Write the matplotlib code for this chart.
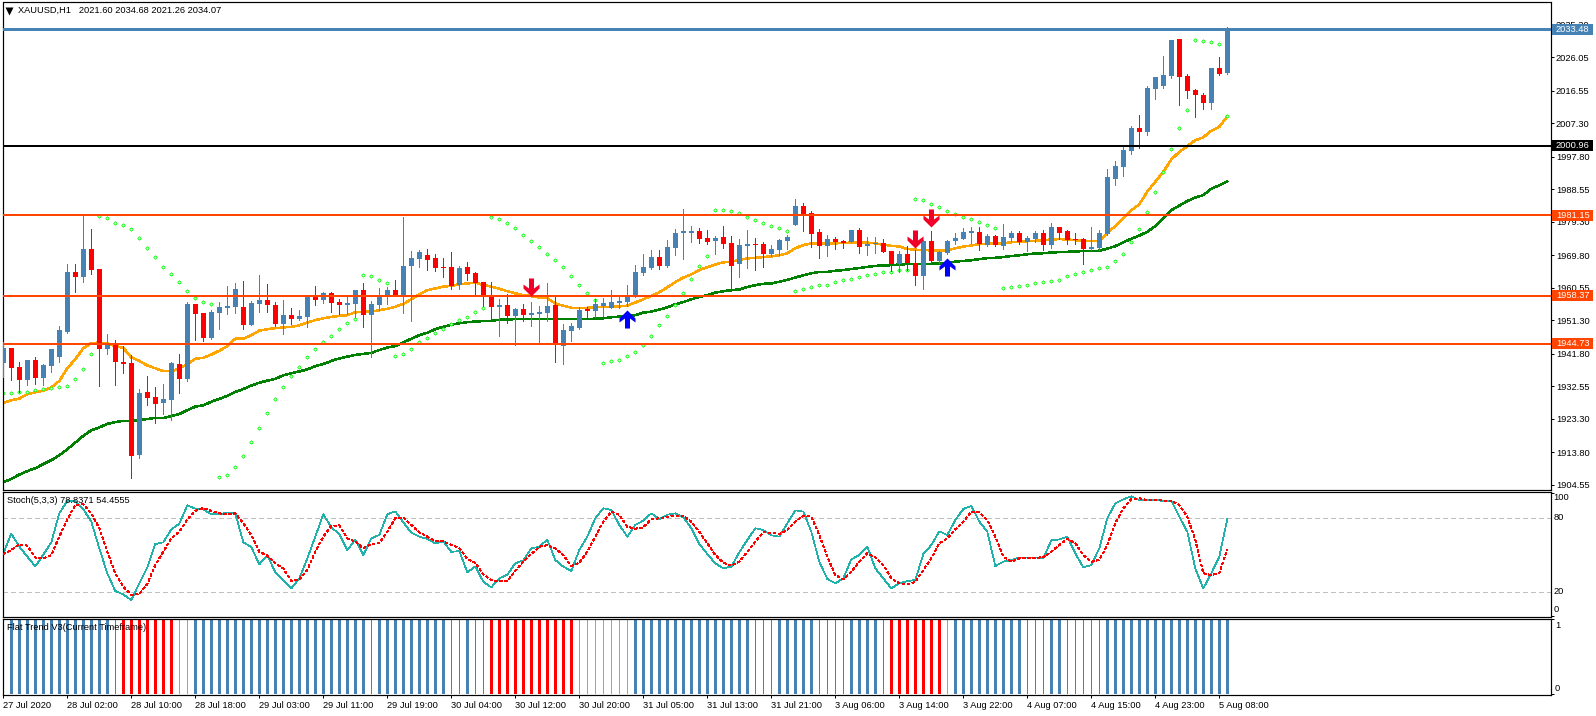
import numpy as np
import matplotlib
matplotlib.use("Agg")
import matplotlib.pyplot as plt
from matplotlib.path import Path
from matplotlib.patches import Rectangle
from matplotlib.transforms import blended_transform_factory

plt.rcParams['font.family'] = ['Liberation Sans', 'DejaVu Sans']

opens = [1939.3,1943.4,1938.0,1934.4,1940.0,1935.0,1938.3,1940.9,1947.9,1965.0,
1963.6,1971.6,1965.9,1943.1,1944.3,1939.5,1939.2,1913.0,1930.9,1929.5,
1927.8,1928.7,1938.9,1934.6,1955.9,1953.4,1946.3,1953.4,1954.8,1955.1,
1955.1,1950.0,1955.9,1957.1,1955.7,1950.3,1952.8,1951.7,1952.3,1957.9,
1957.1,1959.1,1956.5,1955.7,1955.9,1959.9,1952.8,1955.7,1958.2,1959.9,
1958.5,1966.8,1968.7,1969.9,1969.0,1966.5,1966.5,1961.4,1966.5,1964.8,
1962.2,1958.5,1955.1,1955.7,1952.5,1954.5,1952.8,1953.1,1953.4,1955.7,
1944.0,1948.3,1949.1,1954.5,1954.0,1955.4,1954.8,1956.2,1956.5,1957.9,
1964.8,1966.2,1969.3,1966.8,1971.9,1976.1,1976.1,1976.7,1974.7,1973.9,
1975.0,1973.3,1967.3,1972.4,1973.0,1973.0,1970.2,1971.3,1973.9,1978.4,
1983.8,1981.8,1976.4,1972.4,1974.4,1973.9,1973.6,1977.0,1972.4,1973.0,
1973.3,1971.0,1967.3,1970.2,1967.6,1963.9,1973.9,1968.2,1970.4,1973.9,
1974.4,1976.1,1976.4,1972.7,1975.3,1972.4,1974.7,1976.1,1973.6,1974.4,
1976.1,1972.7,1977.8,1976.7,1974.4,1974.4,1971.6,1971.9,1975.8,1991.5,
1994.9,1999.4,2006.0,2004.8,2017.0,2017.9,2020.7,2031.2,2020.7,2016.7,
2015.3,2013.0,2023.0,2021.60]
highs = [1945.2,1943.6,1939.5,1940.2,1940.9,1938.9,1943.1,1949.7,1967.3,1967.3,
1980.9,1977.3,1965.9,1947.4,1945.7,1944.0,1941.5,1931.8,1935.5,1932.4,
1933.2,1939.5,1941.7,1956.5,1955.9,1953.4,1954.2,1956.5,1961.1,1961.9,
1962.5,1956.8,1964.2,1961.6,1956.5,1957.1,1954.8,1954.2,1958.2,1961.1,
1959.4,1959.4,1957.4,1958.2,1959.9,1961.9,1956.8,1960.5,1960.8,1962.8,
1980.7,1971.0,1971.3,1971.6,1970.2,1969.0,1970.7,1966.8,1967.9,1965.0,
1962.2,1962.2,1957.4,1958.8,1954.8,1955.9,1956.5,1955.4,1961.9,1958.5,
1950.3,1950.6,1955.1,1955.1,1957.4,1957.7,1959.9,1958.2,1961.4,1967.0,
1970.2,1971.3,1971.3,1974.1,1977.3,1982.9,1978.1,1977.5,1977.0,1975.3,
1978.1,1975.3,1974.4,1977.0,1974.7,1973.6,1972.7,1974.4,1975.6,1985.8,
1984.6,1982.4,1977.3,1975.6,1975.0,1974.1,1977.0,1977.5,1975.0,1975.0,
1974.4,1971.0,1971.0,1972.4,1971.3,1974.1,1976.7,1971.0,1974.1,1976.1,
1977.5,1977.8,1977.8,1975.8,1975.6,1978.7,1976.7,1976.7,1975.3,1976.7,
1977.0,1979.0,1977.8,1977.0,1976.1,1974.7,1977.8,1977.0,1994.3,1996.6,
2000.6,2006.5,2009.6,2017.9,2020.4,2026.4,2030.9,2031.2,2021.3,2017.0,
2015.9,2023.0,2026.1,2034.68]
lows = [1935.3,1934.4,1931.0,1933.0,1933.2,1933.0,1936.6,1939.5,1947.7,1959.4,
1962.2,1964.5,1932.6,1941.7,1932.9,1936.3,1906.5,1912.2,1927.3,1922.1,
1924.7,1923.0,1930.7,1934.1,1945.7,1945.4,1946.0,1948.8,1953.1,1953.4,
1948.8,1950.0,1953.7,1953.7,1949.7,1947.4,1950.3,1951.4,1949.4,1955.7,
1956.2,1953.7,1953.1,1953.1,1952.3,1949.4,1940.9,1954.2,1955.9,1958.5,
1953.4,1951.1,1966.5,1965.6,1965.3,1963.6,1960.2,1960.2,1962.8,1958.8,
1955.4,1951.1,1946.9,1950.6,1944.3,1951.1,1949.7,1944.6,1951.1,1939.5,
1938.9,1945.4,1948.8,1952.0,1952.3,1952.5,1954.8,1954.8,1955.4,1957.9,
1964.2,1965.9,1965.9,1966.5,1969.9,1968.7,1973.6,1973.3,1973.0,1970.2,
1971.9,1959.6,1963.6,1966.2,1965.6,1966.5,1969.6,1969.9,1971.6,1978.4,
1976.7,1972.2,1969.0,1969.6,1971.6,1971.9,1973.6,1970.4,1969.9,1970.4,
1970.7,1965.3,1965.0,1965.6,1961.4,1960.2,1967.3,1967.6,1970.2,1973.0,
1974.4,1973.3,1971.3,1972.4,1972.4,1971.6,1973.9,1973.0,1971.0,1973.6,
1971.3,1971.9,1974.4,1973.0,1973.0,1967.3,1971.3,1971.3,1975.5,1989.7,
1992.3,1998.6,2000.3,2004.0,2014.2,2017.3,2020.2,2012.5,2014.5,2009.1,
2011.3,2011.3,2021.0,2021.26]
closes = [1943.6,1937.9,1934.5,1940.0,1934.9,1938.6,1943.1,1948.6,1965.0,1963.6,
1971.6,1965.6,1943.1,1944.3,1939.5,1938.9,1912.8,1930.7,1929.2,1927.5,
1929.0,1939.2,1934.6,1955.9,1953.1,1946.3,1953.7,1955.1,1955.4,1960.2,
1950.0,1956.2,1957.1,1955.7,1950.3,1952.8,1951.7,1952.5,1957.9,1957.1,
1959.1,1956.2,1955.7,1956.2,1959.9,1952.8,1955.9,1958.5,1959.9,1958.5,
1966.8,1969.0,1970.7,1968.5,1966.2,1966.2,1961.1,1966.2,1964.5,1961.9,
1958.2,1955.1,1955.7,1952.5,1954.5,1952.8,1953.4,1953.7,1955.4,1944.3,
1948.6,1949.7,1954.2,1954.0,1955.9,1956.2,1956.5,1956.8,1958.5,1965.0,
1966.5,1969.3,1966.8,1972.2,1976.1,1976.7,1976.7,1974.4,1973.6,1974.7,
1973.0,1966.8,1972.7,1973.0,1972.7,1970.2,1971.6,1974.1,1975.0,1983.8,
1981.5,1975.8,1972.4,1974.4,1973.6,1973.3,1977.0,1972.2,1973.0,1973.3,
1970.7,1967.3,1970.2,1967.6,1963.9,1973.9,1968.2,1970.7,1973.9,1974.7,
1976.4,1976.7,1973.0,1975.3,1972.7,1975.0,1976.1,1973.6,1974.7,1976.1,
1972.7,1977.8,1976.1,1974.1,1974.1,1971.6,1972.2,1976.1,1992.0,1995.1,
1999.7,2006.0,2004.8,2017.3,2020.4,2021.0,2030.9,2020.4,2016.5,2015.3,
2013.0,2023.0,2021.3,2034.07]

ma_orange = [1927.9,1928.6,1929.1,1930.3,1930.9,1931.3,1932.3,1934.1,1937.7,1940.3,
1943.4,1944.9,1945.0,1944.8,1944.0,1943.5,1940.8,1939.8,1938.5,1937.7,
1936.9,1936.9,1937.6,1938.9,1940.4,1940.7,1941.6,1942.7,1944.0,1946.1,
1946.1,1947.1,1948.4,1948.8,1949.1,1949.3,1949.5,1949.9,1950.7,1951.4,
1951.9,1952.3,1952.6,1952.8,1953.6,1953.8,1953.8,1954.2,1954.6,1955.2,
1956.0,1957.3,1958.7,1959.9,1960.4,1960.9,1961.1,1961.6,1961.8,1962.0,
1961.4,1960.9,1960.3,1959.6,1959.0,1958.5,1958.2,1957.8,1957.6,1956.1,
1955.5,1954.9,1954.8,1954.9,1955.1,1955.1,1955.1,1955.3,1955.5,1956.4,
1957.3,1958.3,1959.3,1960.7,1962.2,1963.5,1964.4,1965.6,1966.4,1967.2,
1967.8,1968.0,1968.5,1968.9,1969.1,1969.3,1969.5,1969.8,1970.4,1971.8,
1972.7,1973.2,1973.2,1973.2,1973.2,1973.3,1973.4,1973.5,1973.4,1973.2,
1972.8,1972.5,1972.3,1971.6,1971.4,1971.3,1971.2,1971.1,1971.2,1971.8,
1972.3,1972.6,1973.0,1973.1,1973.1,1973.2,1973.5,1973.7,1973.8,1973.9,
1974.1,1974.3,1974.4,1974.3,1974.1,1973.9,1973.9,1973.9,1976.2,1978.1,
1980.3,1982.6,1984.3,1987.9,1990.7,1993.5,1997.0,1999.2,2000.8,2002.5,
2003.3,2005.2,2006.3,2009.3]
ma_green = [1905.3,1906.3,1907.5,1908.5,1909.3,1910.5,1911.6,1913.0,1914.7,1916.6,
1918.5,1920.1,1920.9,1921.9,1922.4,1922.8,1922.8,1922.9,1923.3,1923.6,
1923.6,1924.1,1924.7,1925.8,1926.8,1927.2,1928.2,1929.0,1929.9,1931.0,
1931.8,1932.8,1933.6,1934.2,1934.7,1935.7,1936.3,1936.8,1937.4,1938.3,
1938.9,1939.8,1940.5,1941.0,1941.5,1941.8,1942.1,1942.9,1943.6,1944.0,
1945.1,1946.1,1947.1,1947.8,1948.8,1949.5,1950.1,1950.5,1950.8,1951.0,
1951.1,1951.2,1951.5,1951.5,1951.7,1951.7,1951.7,1951.7,1951.7,1951.7,
1951.7,1951.7,1951.7,1951.7,1951.8,1951.9,1952.2,1952.4,1952.5,1952.8,
1953.5,1953.8,1954.4,1955.0,1955.9,1956.5,1957.3,1958.0,1958.5,1959.2,
1959.6,1959.9,1960.1,1960.8,1961.3,1961.7,1961.8,1962.3,1962.8,1963.5,
1964.1,1964.7,1965.1,1965.1,1965.4,1965.6,1965.9,1966.2,1966.5,1966.8,
1966.9,1967.0,1967.2,1967.3,1967.3,1967.3,1967.4,1967.5,1967.7,1968.0,
1968.2,1968.4,1968.7,1969.0,1969.1,1969.3,1969.6,1969.8,1970.1,1970.3,
1970.4,1970.6,1970.7,1970.8,1970.9,1971.0,1971.0,1971.1,1971.7,1972.4,
1973.5,1974.5,1975.4,1976.5,1978.1,1980.3,1982.6,1983.9,1985.2,1986.2,
1986.9,1988.7,1989.7,1990.8]
sar = [1930.6,1930.6,1930.9,1931.1,1931.4,1931.7,1932.0,1932.3,1932.8,1934.8,
1937.4,1941.9,1980.9,1980.3,1979.1,1978.3,1977.4,1974.6,1971.8,1969.2,
1966.6,1964.4,1962.1,1959.8,1957.6,1956.4,1955.9,1906.7,1907.5,1909.8,
1912.9,1916.9,1920.6,1924.9,1928.9,1932.3,1935.4,1938.2,1940.8,1943.1,
1945.3,1947.0,1948.8,1950.5,1951.6,1964.1,1963.8,1962.7,1961.8,1941.1,
1941.7,1943.1,1945.1,1946.2,1947.6,1949.0,1950.2,1951.3,1952.4,1953.6,
1954.7,1980.6,1980.0,1978.9,1977.5,1975.5,1973.8,1972.1,1970.3,1968.6,
1966.4,1963.8,1961.3,1959.0,1957.0,1939.1,1939.7,1940.2,1941.1,1942.2,
1944.2,1946.8,1949.9,1952.5,1955.6,1959.0,1963.2,1966.7,1969.5,1982.8,
1982.6,1982.3,1981.7,1980.6,1979.7,1978.9,1978.0,1977.5,1976.6,1959.6,
1960.1,1960.7,1961.3,1961.5,1962.1,1962.7,1963.0,1963.5,1964.1,1964.4,
1965.0,1965.2,1965.5,1965.5,1985.7,1985.4,1984.3,1983.4,1982.3,1981.5,
1980.6,1980.0,1979.2,1978.3,1977.7,1960.4,1960.7,1961.1,1961.3,1961.8,
1962.1,1962.4,1962.7,1963.8,1964.4,1965.0,1965.5,1966.1,1966.4,1968.1,
1970.3,1973.5,1977.4,1982.0,1987.7,1993.5,1999.9,2006.1,2011.2,2031.1,
2030.6,2030.3,2029.7,2009.3]

stoch_main = [51,67,56.5,48.4,40.5,50,60,83.5,93.5,93.5,
86.8,76.8,55.1,34.9,20.5,17.8,13.2,26.8,39.7,58.6,
60,70.5,75.1,90,87.3,86.8,82.7,82.7,84.3,83.5,
60,56.2,42.2,49.7,35.7,29,22.7,30.8,47,64.6,
82.7,72.2,66.5,53.5,62.4,49.5,63.2,66,82.7,85.1,
76.2,67.8,64.6,62.7,59.2,60.8,52.2,53,35.7,40.5,
28.1,23.5,30.8,33.8,43,45.4,55.1,56.5,62.2,45.7,
40.3,36.8,53.8,64.6,79.5,87.6,86.2,74.1,64.6,74.1,
77.6,83.5,78.9,82.4,83.5,80.3,71.4,58.6,50.5,43,
38.9,40.3,51.9,61.9,71.4,70,65.7,64.6,75.4,85.9,
84.9,68.6,44.3,30.3,26.8,30.8,46.2,49.7,56.5,38.9,
30.8,22.7,26.8,28.6,29.5,50.5,57.8,68.9,65.9,78.1,
87,89.5,76.8,68.6,40.8,44.3,45.7,47.8,47.6,47.8,
47,61.6,62.4,64.6,51.1,39.7,41.6,55.1,79.5,91.6,
94.9,97.3,94.3,94.3,94.3,93.5,93.8,80.8,68.6,38.9,
22.7,34.9,48.4,78.8371]
stoch_signal = [50.3,53.8,58.4,57.3,47.6,46.8,49.7,64.6,78.6,90.3,
90.8,83.5,71.4,52.4,34.9,24.1,17.3,18.1,26.2,41.6,
52.4,63.2,68.6,78.6,85.4,87.8,85.4,83.5,82.7,83.5,
75.4,65.9,52.4,49.2,43,38.9,28.6,30,37.6,52.4,
64.6,73.2,73.8,63.2,60.5,55.1,58.9,59.2,68.6,79.5,
80,74.1,68.1,64.6,61.1,60.8,57.8,55.4,46.5,43.5,
34,29.5,28.4,28.6,36.8,44.3,50.5,56.5,57.8,55.1,
49.7,40.8,43.5,52.4,64.6,76.8,84.9,82.2,72.7,71.1,
72.2,78.6,79.5,80.8,81.6,81.6,76.8,68.6,59.2,49.7,
43.5,41.1,44.3,52.4,60.5,68.1,67.8,66.8,70,76.8,
81.4,80.8,65.9,48.4,33.5,30,36.2,44.3,51.1,47.8,
41.6,30.8,26.8,26,27.8,37.6,47,59.2,63.2,70.5,
76.8,84.9,84.3,78.1,64.6,48.4,44.3,47,47.3,47.6,
47.8,52.4,57.8,62.7,59.2,49.7,44.3,45.7,57.8,75.4,
87.6,94.9,95.7,94.3,94.3,93.8,93.8,90.3,80.8,61.9,
34.9,33.5,34.9,54.4555]
stoch_levels = [80, 20]
stoch_tick_labels = ['100', '80', '20', '0']
stoch_label_values = [96.5, 80, 20, 5.5]

# one letter per bar: B thick blue, b thin blue, R thick red, r thin salmon, . none
flat_states = ('.' + 'BBBBBBBBBBBBB' + 'b' + 'RRRRRRR' + 'rr' + 'BBBBBBBBBBBBBBBBBBBBBB' + 'b'
               + 'BBBBBBBBB' + 'bb' + 'B' + 'bb' + 'RRRRRRRRRRR' + 'rrrrrrr' + 'BBBBBBBBBBBBBBB'
               + 'bbb' + 'BBBBB' + 'bbbb' + 'BBBB' + 'b' + 'RRRRRRR' + 'r' + 'BBBBBBBBB' + 'bbb'
               + 'BB' + 'bbbbb' + 'BBBBBBBBBBBBBBBB')

down_arrows_x = [66, 114, 116]
down_arrows_y = [1960.9, 1974.3, 1980.3]
up_arrows_x = [78, 118]
up_arrows_y = [1951.8, 1966.6]

level_values = [2034.0, 2000.96, 1981.15, 1958.37, 1944.73]
level_labels = ['2033.48', '2000.96', '1981.15', '1958.37', '1944.73']
level_colors = ['#4682B4', '#000000', '#FF4500', '#FF4500', '#FF4500']
level_widths = [3, 2, 2, 2, 2]

price_ticks = [2035.30,2026.05,2016.55,2007.30,1997.80,1988.55,1979.30,1969.80,
               1960.55,1951.30,1941.80,1932.55,1923.30,1913.80,1904.55]
time_tick_idx = list(range(0, 153, 8))
time_tick_labels = ['27 Jul 2020','28 Jul 02:00','28 Jul 10:00','28 Jul 18:00','29 Jul 03:00',
 '29 Jul 11:00','29 Jul 19:00','30 Jul 04:00','30 Jul 12:00','30 Jul 20:00','31 Jul 05:00',
 '31 Jul 13:00','31 Jul 21:00','3 Aug 06:00','3 Aug 14:00','3 Aug 22:00','4 Aug 07:00',
 '4 Aug 15:00','4 Aug 23:00','5 Aug 08:00']

W, H = 1596, 716
PX = 0.72  # one pixel in points at dpi 100
FS = 6.7
BLUE, RED = '#4682B4', '#FF0000'

fig = plt.figure(figsize=(W/100, H/100), dpi=100, facecolor='white')
L, R = 2.5, 1551.0
def pane(top, bottom):
    a = fig.add_axes([L/W, 1-bottom/H, (R-L)/W, (bottom-top)/H])
    a.set_facecolor('white')
    a.set_xlim((L-3.3)/8, (R-3.3)/8)
    for s in a.spines.values():
        s.set_linewidth(PX*1.2); s.set_color('black')
    a.yaxis.tick_right()
    a.tick_params(axis='both', length=3*PX, width=PX, labelsize=FS, pad=2*PX, colors='black')
    a.set_xticks([])
    return a

ax = pane(2.5, 489.5)
ax.set_ylim(1903.27, 2041.62)
ax2 = pane(491.5, 616.7)
ax2.set_ylim(-0.27, 101.2)
ax3 = pane(618.5, 695.0)
ax3.set_ylim(-0.013, 1)

idx = np.arange(len(closes))
o, h, l, c = map(np.array, (opens, highs, lows, closes))

# moving averages and SAR lie beneath the candles
ax.plot(idx, ma_orange, color='#FFA500', lw=1.5*PX, antialiased=False, zorder=2)
ax.plot(idx, ma_green, color='#008000', lw=1.5*PX, antialiased=False, zorder=2)
ax.plot(idx, sar, ls='none', marker='D', ms=1.8, mfc='white', mec='#00FF00', mew=0.6, zorder=2.2)

up = c >= o
colors = np.where(up, BLUE, RED)
ax.vlines(idx, l, h, colors=colors, lw=0.6, antialiased=False, zorder=3)
ax.bar(idx, np.abs(c-o), bottom=np.minimum(o, c), width=5/8, color=colors,
       linewidth=0, antialiased=False, zorder=3.1)

for v, col, w in zip(level_values, level_colors, level_widths):
    ax.axhline(v, color=col, lw=w*PX, antialiased=False, zorder=4)

# arrows
down_path = Path([(-2.5,9),(2.5,9),(2.5,-1),(8,3),(8,-1),(0,-9),(-8,-1),(-8,3),(-2.5,-1),(-2.5,9)], closed=True)
up_path = Path([(x, -y) for x, y in down_path.vertices], closed=True)
ax.plot(down_arrows_x, down_arrows_y, ls='none', marker=down_path, ms=13, mfc='#F00028', mec='none', zorder=5)
ax.plot(up_arrows_x, up_arrows_y, ls='none', marker=up_path, ms=13, mfc='#0000FF', mec='none', zorder=5)

ax.set_yticks(price_ticks)
ax.set_yticklabels([f'{t:.2f}' for t in price_ticks])

# price labels on the scale
tr = blended_transform_factory(ax.transAxes, ax.transData)
axw = R - L
for v, txt, col in zip(level_values, level_labels, level_colors):
    ax.add_patch(Rectangle(((1552-L)/axw, v-5.7/3.52), 41/axw, 11.4/3.52, transform=tr,
                           fc=col, ec='none', clip_on=False, zorder=6))
    ax.text((1556-L)/axw, v, txt, transform=tr, color='white', fontsize=FS,
            va='center', ha='left', clip_on=False, zorder=7)

ax.plot([(8.7-L)/axw], [1-(8.2)/487], transform=ax.transAxes, marker='v', ms=5.2,
        color='black', mec='none', ls='none', zorder=8)
ax.text((17.5-L)/axw, 1-8.3/487, 'XAUUSD,H1   2021.60 2034.68 2021.26 2034.07', transform=ax.transAxes,
        fontsize=FS, va='center', ha='left', color='black', zorder=8)

# stochastic
for lv in stoch_levels:
    ax2.axhline(lv, color='#C0C0C0', lw=PX, ls=(0, (5, 3)), antialiased=False, zorder=1)
ax2.plot(idx, stoch_main, color='#20B2AA', lw=0.5, antialiased=False, zorder=2)
ax2.plot(idx, stoch_signal, color='#FF0000', lw=0.5, ls=(0, (4.3, 4.3)), antialiased=False, zorder=3)
ax2.set_yticks([100, 0])
ax2.set_yticklabels([])
for v, t in zip(stoch_label_values, stoch_tick_labels):
    ax2.text(1.0 + 2.5/axw, v, t, transform=ax2.get_yaxis_transform(), fontsize=FS,
             va='center', ha='left', clip_on=False)
ax2.text((7.3-L)/axw, 1-9.2/125.2, 'Stoch(5,3,3) 78.8371 54.4555', transform=ax2.transAxes,
         fontsize=FS, va='center', ha='left', zorder=5)

# flat trend histogram
style = {'B': (BLUE, 3.2/8), 'b': (BLUE, 1/8), 'R': (RED, 3.2/8), 'r': ('#FA8072', 1/8)}
for code, (col, wid) in style.items():
    xs = [i for i, s in enumerate(flat_states) if s == code]
    ax3.bar(xs, [1]*len(xs), width=wid, color=col, linewidth=0, antialiased=False, zorder=2)
ax3.set_yticks([1, 0])
ax3.set_yticklabels([])
ax3.text(1.0 + 4/axw, 0.91, '1', transform=ax3.get_yaxis_transform(), fontsize=FS, va='center', ha='left', clip_on=False)
ax3.text(1.0 + 4/axw, 0.075, '0', transform=ax3.get_yaxis_transform(), fontsize=FS, va='center', ha='left', clip_on=False)
ax3.text((7.3-L)/axw, 1-8.6/76.5, 'Flat Trend V3(Current Timeframe)', transform=ax3.transAxes,
         fontsize=FS, va='center', ha='left', color='black', zorder=5)

ax3.set_xticks(time_tick_idx)
ax3.set_xticklabels(time_tick_labels, ha='left', fontsize=FS)
ax3.tick_params(axis='x', length=3*PX, width=PX, pad=2.2)

fig.savefig('out.png', dpi=100, facecolor='white')
